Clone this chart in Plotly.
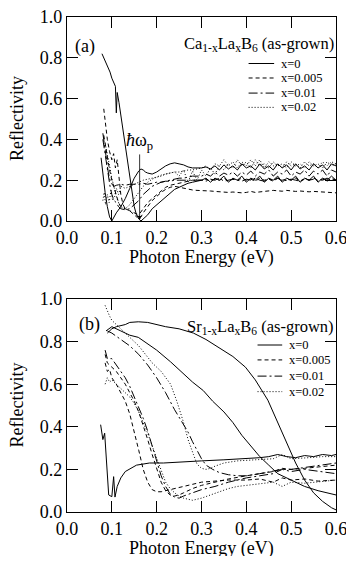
import plotly.graph_objects as go

# composition labels and the line style used for each of them
LABELS = ["x=0", "x=0.005", "x=0.01", "x=0.02"]
DASHES = ["solid", "4px,3px", "9px,3px,2px,3px", "1px,2px"]

# common energy grid for the noisy flat part of panel (a)
TAIL_E = [0.30, 0.31, 0.32, 0.33, 0.34, 0.35, 0.36, 0.37, 0.38, 0.39, 0.40,
          0.41, 0.42, 0.43, 0.44, 0.45, 0.46, 0.47, 0.48, 0.49, 0.50,
          0.51, 0.52, 0.53, 0.54, 0.55, 0.56, 0.57, 0.58, 0.59, 0.60]

# ---- panel (a): Ca1-xLaxB6 ----
ca0_1_E = [0.078, 0.084, 0.09, 0.096, 0.1, 0.104, 0.108, 0.110, 0.112, 0.116, 0.12, 0.125, 0.13, 0.135,
           0.14, 0.145, 0.15, 0.155, 0.16, 0.165, 0.17, 0.18, 0.19, 0.2, 0.21, 0.22, 0.23, 0.24, 0.25,
           0.26, 0.27, 0.28, 0.29]
ca0_1_R = [0.82, 0.79, 0.76, 0.73, 0.70, 0.68, 0.66, 0.53, 0.63, 0.58, 0.52, 0.44, 0.36, 0.28,
           0.20, 0.13, 0.07, 0.03, 0.01, 0.0, 0.01, 0.03, 0.06, 0.08, 0.1, 0.12, 0.14, 0.155, 0.165,
           0.175, 0.185, 0.19, 0.195]
ca0_1_tail = [0.20, 0.21, 0.19, 0.21, 0.20, 0.22, 0.19, 0.21, 0.20, 0.22, 0.19, 0.21, 0.20, 0.22, 0.19, 0.21,
              0.20, 0.22, 0.19, 0.21, 0.20, 0.22, 0.19, 0.21, 0.20, 0.22, 0.19, 0.21, 0.20, 0.22, 0.20]

ca0_2_E = [0.076, 0.08, 0.085, 0.09, 0.095, 0.1, 0.105, 0.11, 0.12, 0.13, 0.14, 0.15, 0.16, 0.165, 0.17,
           0.175, 0.18, 0.19, 0.2, 0.21, 0.22, 0.23, 0.24, 0.25, 0.26, 0.27, 0.28, 0.29]
ca0_2_R = [0.31, 0.22, 0.14, 0.07, 0.02, 0.0, 0.02, 0.04, 0.07, 0.11, 0.16, 0.21, 0.245, 0.255, 0.25,
           0.24, 0.235, 0.23, 0.24, 0.255, 0.27, 0.28, 0.285, 0.28, 0.275, 0.265, 0.26, 0.26]
ca0_2_tail = [0.26, 0.265, 0.255, 0.27, 0.25, 0.275, 0.255, 0.27, 0.25, 0.28, 0.26, 0.27, 0.25, 0.28, 0.255, 0.27,
              0.25, 0.28, 0.26, 0.275, 0.25, 0.28, 0.255, 0.27, 0.25, 0.28, 0.26, 0.275, 0.25, 0.28, 0.27]

ca005_1_E = [0.082, 0.086, 0.09, 0.095, 0.1, 0.104, 0.108, 0.112, 0.116, 0.12, 0.125, 0.13, 0.14, 0.15, 0.16,
             0.165, 0.17, 0.18, 0.19, 0.2, 0.21, 0.22, 0.23, 0.24, 0.25, 0.26, 0.27, 0.28, 0.29]
ca005_1_R = [0.55, 0.47, 0.4, 0.34, 0.3, 0.33, 0.26, 0.3, 0.2, 0.13, 0.08, 0.06, 0.05, 0.04, 0.03,
             0.02, 0.04, 0.07, 0.1, 0.12, 0.14, 0.155, 0.165, 0.17, 0.165, 0.16, 0.155, 0.152, 0.15]
ca005_1_tail = [0.15, 0.148, 0.147, 0.145, 0.143, 0.142, 0.14, 0.142, 0.14, 0.138, 0.14, 0.145, 0.14, 0.142, 0.145,
                0.148, 0.15, 0.148, 0.146, 0.15, 0.148, 0.145, 0.147, 0.145, 0.143, 0.145, 0.143, 0.142, 0.14,
                0.14, 0.138]

ca005_2_E = [0.082, 0.086, 0.09, 0.095, 0.1, 0.105, 0.11, 0.115, 0.12, 0.13, 0.14, 0.15, 0.155, 0.16, 0.17,
             0.18, 0.19, 0.2, 0.21, 0.22, 0.23, 0.24, 0.25, 0.26, 0.27, 0.28, 0.29]
ca005_2_R = [0.42, 0.36, 0.31, 0.25, 0.2, 0.16, 0.12, 0.09, 0.07, 0.06, 0.05, 0.03, 0.02, 0.03, 0.06,
             0.09, 0.11, 0.13, 0.15, 0.165, 0.175, 0.18, 0.185, 0.19, 0.195, 0.2, 0.2]
ca005_2_tail = [0.2, 0.205, 0.195, 0.205, 0.2, 0.21, 0.195, 0.205, 0.2, 0.21, 0.2, 0.205, 0.195, 0.21, 0.2, 0.205,
                0.195, 0.21, 0.2, 0.205, 0.2, 0.21, 0.195, 0.205, 0.2, 0.21, 0.2, 0.205, 0.195, 0.21, 0.2]

ca01_1_E = [0.08, 0.084, 0.088, 0.092, 0.096, 0.1, 0.105, 0.11, 0.12, 0.13, 0.14, 0.15, 0.16, 0.17, 0.18,
            0.19, 0.2, 0.21, 0.22, 0.23, 0.24, 0.25, 0.26, 0.27, 0.28, 0.29]
ca01_1_R = [0.43, 0.36, 0.3, 0.24, 0.2, 0.18, 0.17, 0.175, 0.18, 0.175, 0.18, 0.18, 0.18, 0.185, 0.18,
            0.185, 0.19, 0.19, 0.195, 0.195, 0.2, 0.2, 0.2, 0.2, 0.2, 0.2]
ca01_1_tail = [0.2, 0.195, 0.205, 0.2, 0.21, 0.195, 0.2, 0.205, 0.2, 0.195, 0.205, 0.2, 0.21, 0.2, 0.195, 0.205,
               0.2, 0.21, 0.195, 0.2, 0.205, 0.2, 0.195, 0.21, 0.2, 0.205, 0.195, 0.2, 0.21, 0.2, 0.205]

ca01_2_E = [0.08, 0.084, 0.088, 0.092, 0.096, 0.1, 0.105, 0.11, 0.115, 0.12, 0.13, 0.14, 0.15, 0.16, 0.17,
            0.18, 0.19, 0.2, 0.21, 0.22, 0.23, 0.24, 0.25, 0.26, 0.27, 0.28, 0.29]
ca01_2_R = [0.4, 0.34, 0.28, 0.22, 0.17, 0.13, 0.1, 0.09, 0.07, 0.06, 0.055, 0.06, 0.08, 0.1, 0.13,
            0.15, 0.17, 0.18, 0.19, 0.195, 0.2, 0.205, 0.21, 0.21, 0.215, 0.22, 0.22]
ca01_2_tail = [0.22, 0.23, 0.22, 0.24, 0.22, 0.235, 0.225, 0.24, 0.22, 0.24, 0.225, 0.245, 0.22, 0.24, 0.23, 0.25,
               0.22, 0.24, 0.23, 0.25, 0.22, 0.24, 0.23, 0.25, 0.22, 0.245, 0.23, 0.25, 0.22, 0.25, 0.24]

ca02_1_E = [0.085, 0.09, 0.095, 0.1, 0.105, 0.11, 0.115, 0.12, 0.13, 0.14, 0.15, 0.16, 0.17, 0.18, 0.19,
            0.2, 0.21, 0.22, 0.23, 0.24, 0.25, 0.26, 0.27, 0.28, 0.29]
ca02_1_R = [0.38, 0.33, 0.27, 0.21, 0.16, 0.12, 0.09, 0.07, 0.06, 0.08, 0.11, 0.14, 0.17, 0.19, 0.205,
            0.215, 0.225, 0.23, 0.235, 0.24, 0.24, 0.245, 0.25, 0.25, 0.255]
ca02_1_tail = [0.26, 0.27, 0.25, 0.28, 0.27, 0.3, 0.27, 0.29, 0.26, 0.29, 0.27, 0.3, 0.27, 0.3, 0.26, 0.29,
               0.27, 0.28, 0.26, 0.29, 0.27, 0.28, 0.26, 0.29, 0.27, 0.28, 0.26, 0.29, 0.27, 0.29, 0.28]

ca02_2_E = [0.08, 0.083, 0.086, 0.09, 0.094, 0.098, 0.102, 0.106, 0.11, 0.115, 0.12, 0.13, 0.14, 0.15, 0.16,
            0.17, 0.18, 0.19, 0.2, 0.21, 0.22, 0.23, 0.24, 0.25, 0.26, 0.27, 0.28, 0.29]
ca02_2_R = [0.1, 0.14, 0.08, 0.13, 0.09, 0.15, 0.1, 0.12, 0.16, 0.13, 0.17, 0.16, 0.17, 0.18, 0.19,
            0.2, 0.205, 0.21, 0.215, 0.22, 0.23, 0.235, 0.24, 0.22, 0.25, 0.19, 0.245, 0.2]
ca02_2_tail = [0.25, 0.22, 0.26, 0.23, 0.27, 0.25, 0.28, 0.26, 0.3, 0.27, 0.29, 0.26, 0.3, 0.27, 0.28, 0.26,
               0.29, 0.27, 0.28, 0.26, 0.29, 0.27, 0.28, 0.26, 0.29, 0.27, 0.28, 0.26, 0.29, 0.27, 0.28]

CA_CURVES = [
    [(ca0_1_E + TAIL_E, ca0_1_R + ca0_1_tail), (ca0_2_E + TAIL_E, ca0_2_R + ca0_2_tail)],
    [(ca005_1_E + TAIL_E, ca005_1_R + ca005_1_tail), (ca005_2_E + TAIL_E, ca005_2_R + ca005_2_tail)],
    [(ca01_1_E + TAIL_E, ca01_1_R + ca01_1_tail), (ca01_2_E + TAIL_E, ca01_2_R + ca01_2_tail)],
    [(ca02_1_E + TAIL_E, ca02_1_R + ca02_1_tail), (ca02_2_E + TAIL_E, ca02_2_R + ca02_2_tail)],
]

# ---- panel (b): Sr1-xLaxB6 ----
sr0_1_E = [0.09, 0.1, 0.11, 0.12, 0.13, 0.14, 0.159, 0.18, 0.2, 0.22, 0.25, 0.282, 0.31, 0.34, 0.37, 0.398,
           0.42, 0.448, 0.47, 0.49, 0.51, 0.53, 0.55, 0.57, 0.59, 0.6]
sr0_1_R = [0.84, 0.86, 0.87, 0.875, 0.88, 0.89, 0.893, 0.89, 0.88, 0.87, 0.86, 0.84, 0.81, 0.77, 0.73, 0.68,
           0.62, 0.525, 0.42, 0.33, 0.23, 0.15, 0.09, 0.05, 0.02, 0.01]
sr0_2_E = [0.087, 0.1, 0.12, 0.14, 0.159, 0.18, 0.2, 0.231, 0.26, 0.28, 0.304, 0.325, 0.35, 0.37, 0.39, 0.41,
           0.43, 0.45, 0.47, 0.5, 0.53, 0.56, 0.58, 0.6]
sr0_2_R = [0.85, 0.87, 0.85, 0.83, 0.82, 0.79, 0.76, 0.705, 0.65, 0.61, 0.57, 0.52, 0.47, 0.42, 0.36, 0.31,
           0.26, 0.22, 0.18, 0.15, 0.12, 0.1, 0.09, 0.08]
sr0_3_E = [0.075, 0.08, 0.084, 0.088, 0.093, 0.1, 0.104, 0.107, 0.112, 0.12, 0.13, 0.155, 0.184, 0.215, 0.25,
           0.3, 0.35, 0.4, 0.43, 0.45, 0.47, 0.49, 0.51, 0.53, 0.55, 0.57, 0.59, 0.6]
sr0_3_R = [0.41, 0.34, 0.37, 0.25, 0.08, 0.072, 0.166, 0.07, 0.12, 0.16, 0.19, 0.22, 0.23, 0.23, 0.235,
           0.24, 0.245, 0.25, 0.255, 0.26, 0.27, 0.26, 0.255, 0.265, 0.26, 0.27, 0.265, 0.27]

sr005_1_E = [0.085, 0.09, 0.095, 0.1, 0.11, 0.12, 0.13, 0.14, 0.15, 0.16, 0.17, 0.18, 0.19, 0.2, 0.21, 0.22,
             0.24, 0.26, 0.28, 0.3, 0.33, 0.36, 0.4, 0.43, 0.46, 0.48, 0.5, 0.53, 0.56, 0.6]
sr005_1_R = [0.7, 0.66, 0.67, 0.63, 0.6, 0.56, 0.52, 0.46, 0.38, 0.29, 0.2, 0.14, 0.105, 0.095, 0.095, 0.1,
             0.11, 0.12, 0.13, 0.14, 0.145, 0.15, 0.15, 0.155, 0.14, 0.16, 0.15, 0.155, 0.145, 0.15]
sr005_2_E = [0.085, 0.09, 0.1, 0.11, 0.12, 0.13, 0.14, 0.15, 0.16, 0.17, 0.18, 0.19, 0.2, 0.21, 0.22, 0.23,
             0.24, 0.25, 0.26, 0.28, 0.3, 0.33, 0.36, 0.4, 0.43, 0.46, 0.48, 0.5, 0.53, 0.56, 0.6]
sr005_2_R = [0.74, 0.7, 0.68, 0.66, 0.63, 0.6, 0.56, 0.52, 0.47, 0.41, 0.34, 0.27, 0.2, 0.14, 0.1, 0.08,
             0.075, 0.08, 0.09, 0.11, 0.125, 0.14, 0.155, 0.17, 0.18, 0.19, 0.205, 0.2, 0.205, 0.21, 0.22]

sr01_1_E = [0.09, 0.1, 0.12, 0.14, 0.16, 0.18, 0.2, 0.22, 0.24, 0.26, 0.27, 0.28, 0.29, 0.3, 0.31, 0.325,
            0.34, 0.36, 0.38, 0.4, 0.43, 0.46, 0.48, 0.5, 0.53, 0.56, 0.6]
sr01_1_R = [0.85, 0.84, 0.81, 0.78, 0.74, 0.69, 0.63, 0.56, 0.48, 0.41, 0.375, 0.33, 0.29, 0.25, 0.22, 0.2,
            0.185, 0.175, 0.17, 0.17, 0.18, 0.19, 0.2, 0.2, 0.21, 0.22, 0.23]
sr01_2_E = [0.085, 0.09, 0.1, 0.11, 0.12, 0.13, 0.14, 0.15, 0.16, 0.17, 0.18, 0.19, 0.2, 0.21, 0.22, 0.23,
            0.24, 0.25, 0.26, 0.28, 0.3, 0.33, 0.36, 0.4, 0.43, 0.46, 0.48, 0.5, 0.53, 0.56, 0.6]
sr01_2_R = [0.76, 0.72, 0.72, 0.69, 0.66, 0.63, 0.59, 0.54, 0.49, 0.44, 0.38, 0.31, 0.24, 0.17, 0.12, 0.085,
            0.07, 0.065, 0.075, 0.09, 0.105, 0.12, 0.14, 0.16, 0.17, 0.18, 0.2, 0.19, 0.2, 0.19, 0.18]

sr02_1_E = [0.085, 0.09, 0.095, 0.1, 0.11, 0.12, 0.13, 0.14, 0.16, 0.19, 0.21, 0.231, 0.245, 0.26, 0.27,
            0.282, 0.29, 0.3, 0.31, 0.32, 0.33, 0.35, 0.38, 0.42, 0.46, 0.48, 0.5, 0.54, 0.57, 0.6]
sr02_1_R = [0.97, 0.94, 0.92, 0.9, 0.88, 0.86, 0.84, 0.82, 0.78, 0.7, 0.66, 0.6, 0.52, 0.42, 0.34,
            0.27, 0.225, 0.205, 0.2, 0.205, 0.215, 0.23, 0.24, 0.245, 0.25, 0.27, 0.25, 0.255, 0.26, 0.26]
sr02_2_E = [0.085, 0.09, 0.095, 0.1, 0.11, 0.12, 0.13, 0.14, 0.15, 0.16, 0.17, 0.18, 0.19, 0.2, 0.21, 0.22,
            0.23, 0.24, 0.25, 0.26, 0.27, 0.28, 0.29, 0.3, 0.32, 0.34, 0.36, 0.38, 0.4, 0.43, 0.46, 0.48,
            0.5, 0.53, 0.56, 0.6]
sr02_2_R = [0.6, 0.63, 0.61, 0.62, 0.6, 0.58, 0.56, 0.54, 0.51, 0.47, 0.42, 0.37, 0.31, 0.25, 0.19, 0.14,
            0.11, 0.09, 0.075, 0.065, 0.06, 0.055, 0.06, 0.065, 0.08, 0.095, 0.11, 0.12, 0.125, 0.13, 0.14, 0.12,
            0.14, 0.135, 0.14, 0.15]

SR_CURVES = [
    [(sr0_1_E, sr0_1_R), (sr0_2_E, sr0_2_R), (sr0_3_E, sr0_3_R)],
    [(sr005_1_E, sr005_1_R), (sr005_2_E, sr005_2_R)],
    [(sr01_1_E, sr01_1_R), (sr01_2_E, sr01_2_R)],
    [(sr02_1_E, sr02_1_R), (sr02_2_E, sr02_2_R)],
]

FONT = "Liberation Serif"

fig = go.Figure()

for curves, xa, ya in [(CA_CURVES, "x", "y"), (SR_CURVES, "x2", "y2")]:
    for i, group in enumerate(curves):
        for E, R in group:
            fig.add_trace(go.Scatter(
                x=E, y=R, mode="lines", xaxis=xa, yaxis=ya,
                name=LABELS[i], showlegend=False, hoverinfo="skip",
                line=dict(color="black", width=1, dash=DASHES[i]),
            ))

axis_style = dict(
    range=[0, 0.6], dtick=0.1, tickformat=".1f",
    showline=True, linecolor="black", linewidth=1.3, mirror="ticks",
    ticks="inside", ticklen=11, tickwidth=1, tickcolor="black",
    showgrid=False, zeroline=False, ticklabeloverflow="allow",
    tickfont=dict(family=FONT, size=18, color="black"),
)
yaxis_style = dict(axis_style, range=[0, 1.0], dtick=0.2)

# the page body adds an 8px border on every side; the figure is sized so the page does not overflow
fig.update_layout(
    width=338, height=548,
    margin=dict(l=59, r=10, t=9, b=44, autoexpand=False),
    paper_bgcolor="white", plot_bgcolor="white",
    font=dict(family=FONT, color="black"),
    showlegend=False,
    xaxis=dict(axis_style, domain=[0, 1], anchor="y"),
    yaxis=dict(yaxis_style, domain=[0.5879, 1], anchor="x"),
    xaxis2=dict(axis_style, domain=[0, 1], anchor="y2"),
    yaxis2=dict(yaxis_style, domain=[0, 0.4303], anchor="x2"),
)

for xa, ya, shift in [("x", "y", -37), ("x2", "y2", -36)]:
    # axis titles
    fig.add_annotation(x=0.5, y=0, xref=f"{xa} domain", yref=f"{ya} domain", yshift=shift,
                       xanchor="center", yanchor="middle", showarrow=False, text="Photon Energy (eV)",
                       font=dict(size=18, color="black"))
    fig.add_annotation(x=0, y=0.5, xref=f"{xa} domain", yref=f"{ya} domain", xshift=-50,
                       xanchor="center", yanchor="middle", textangle=-90, showarrow=False,
                       text="Reflectivity", font=dict(size=18, color="black"))

# in-plot legends: sample line + label, placed in each panel's axis units
for xa, ya, x0, x1, xt, rows in [("x", "y", 0.405, 0.462, 0.472, [0.772, 0.701, 0.627, 0.557]),
                                  ("x2", "y2", 0.425, 0.48, 0.49, [0.784, 0.714, 0.638, 0.565])]:
    for i, yr in enumerate(rows):
        fig.add_shape(type="line", xref=xa, yref=ya, x0=x0, x1=x1, y0=yr, y1=yr,
                      line=dict(color="black", width=1, dash=DASHES[i]))
        fig.add_annotation(x=xt, y=yr, xref=xa, yref=ya, xanchor="left", showarrow=False,
                           text=LABELS[i], font=dict(size=12.5, color="black"))

fig.add_annotation(x=0.6, y=0.87, xref="x", yref="y", xanchor="right", showarrow=False,
                   text="Ca<sub>1-x</sub>La<sub>x</sub>B<sub>6</sub> (as-grown)",
                   font=dict(size=16.5, color="black"))
fig.add_annotation(x=0.041, y=0.855, xref="x", yref="y", showarrow=False, text="(a)",
                   font=dict(size=18, color="black"))
fig.add_annotation(x=0.162, y=0.005, xref="x", yref="y", ax=0.162, ay=0.39, axref="x", ayref="y",
                   text="<i>ħ</i>ω<sub>p</sub>", font=dict(size=18, color="black"), showarrow=True,
                   arrowhead=2, arrowsize=1, arrowwidth=0.8, arrowcolor="black")
fig.add_annotation(x=0.6, y=0.87, xref="x2", yref="y2", xanchor="right", showarrow=False,
                   text="Sr<sub>1-x</sub>La<sub>x</sub>B<sub>6</sub> (as-grown)",
                   font=dict(size=16.5, color="black"))
fig.add_annotation(x=0.05, y=0.88, xref="x2", yref="y2", showarrow=False, text="(b)",
                   font=dict(size=18, color="black"))

fig.write_html("out.html")
